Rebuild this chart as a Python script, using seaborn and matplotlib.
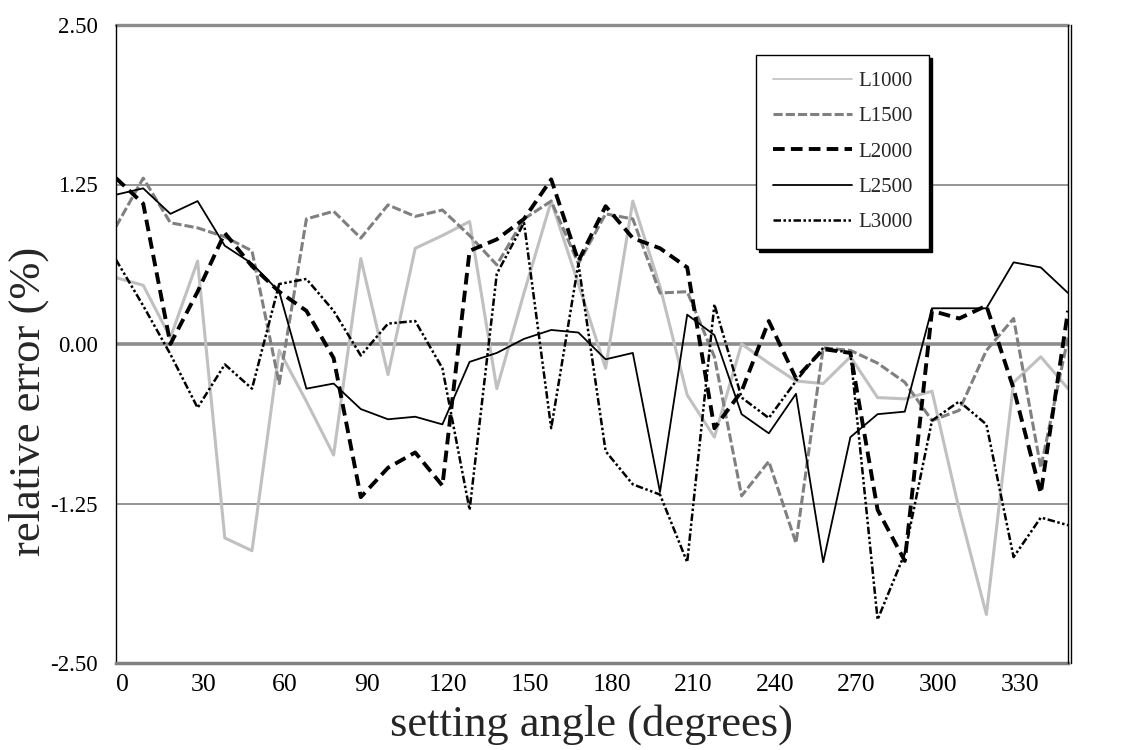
import matplotlib
matplotlib.use("Agg")
import pandas as pd
import matplotlib.pyplot as plt
import matplotlib.transforms as mtransforms
import seaborn as sns

# ===== data (10 degree steps) =====
angles = list(range(0, 360, 10))

L1000 = [0.52, 0.46, 0.05, 0.65, -1.52, -1.62, -0.05, -0.45, -0.87, 0.67, -0.24, 0.75,
         0.85, 0.96, -0.35, 0.40, 1.12, 0.47, -0.19, 1.12, 0.45, -0.40, -0.73, 0.00,
         -0.15, -0.29, -0.31, -0.10, -0.42, -0.43, -0.37, -1.30, -2.12, -0.30, -0.10, -0.35]
L1500 = [0.92, 1.30, 0.95, 0.91, 0.84, 0.73, -0.31, 0.98, 1.04, 0.83, 1.09, 1.00,
         1.05, 0.85, 0.62, 0.98, 1.12, 0.63, 1.02, 0.98, 0.40, 0.41, -0.10, -1.19,
         -0.92, -1.56, -0.03, -0.05, -0.15, -0.30, -0.60, -0.52, -0.05, 0.20, -0.97, 0.05]
L2000 = [1.30, 1.10, 0.00, 0.41, 0.87, 0.61, 0.41, 0.26, -0.11, -1.20, -0.97, -0.85,
         -1.11, 0.73, 0.82, 0.98, 1.29, 0.65, 1.08, 0.83, 0.75, 0.60, -0.66, -0.37,
         0.18, -0.27, -0.04, -0.07, -1.30, -1.70, 0.26, 0.20, 0.30, -0.35, -1.17, 0.26]
L2500 = [1.17, 1.22, 1.02, 1.12, 0.77, 0.63, 0.41, -0.35, -0.31, -0.51, -0.59, -0.57,
         -0.63, -0.14, -0.07, 0.04, 0.11, 0.09, -0.12, -0.07, -1.16, 0.23, 0.07, -0.55,
         -0.70, -0.39, -1.71, -0.73, -0.55, -0.53, 0.28, 0.28, 0.28, 0.64, 0.60, 0.40]
L3000 = [0.66, 0.30, -0.08, -0.50, -0.16, -0.35, 0.47, 0.51, 0.26, -0.09, 0.16, 0.18,
         -0.19, -1.30, 0.55, 0.95, -0.66, 0.63, -0.84, -1.10, -1.18, -1.71, 0.31, -0.42,
         -0.58, -0.29, -0.03, -0.07, -2.16, -1.64, -0.60, -0.45, -0.63, -1.67, -1.36, -1.42]

series_names = ["L1000", "L1500", "L2000", "L2500", "L3000"]
series_values = [L1000, L1500, L2000, L2500, L3000]

x_ticks = list(range(0, 331, 30))
y_ticks = [-2.50, -1.25, 0.00, 1.25, 2.50]

# ===== line styles =====
styles = {
    "L1000": dict(color="#c0c0c0", linewidth=2.2, linestyle="-"),
    "L1500": dict(color="#808080", linewidth=2.2, linestyle=(0, (3, 1))),
    "L2000": dict(color="black", linewidth=2.8, linestyle=(0, (3, 1.6))),
    "L2500": dict(color="black", linewidth=1.3, linestyle="-"),
    "L3000": dict(color="black", linewidth=1.8, linestyle=(0, (3, 1, 1, 1, 1, 1))),
}

sns.set_style("white")
plt.rcParams['font.family'] = ['Liberation Serif', 'DejaVu Serif']

fig = plt.figure(figsize=(11.29, 7.5), dpi=100)
ax = fig.add_axes([116 / 1129, 87 / 750, 952 / 1129, 638 / 750])

# grid lines (Excel style)
grid_col = "#8c8c8c"
ax.axhline(2.50, color=grid_col, lw=2.4, zorder=0, clip_on=False)
ax.axhline(1.25, color=grid_col, lw=1.3, zorder=0)
ax.axhline(0.00, color=grid_col, lw=2.6, zorder=0)
ax.axhline(-1.25, color=grid_col, lw=1.3, zorder=0)

for name, vals in zip(series_names, series_values):
    df = pd.DataFrame({"angle": angles, "err": vals})
    sns.lineplot(data=df, x="angle", y="err", ax=ax, label=name, **styles[name])

ax.set_xlim(0, 350)
ax.set_ylim(-2.5, 2.5)
ax.set_xticks(x_ticks)
ax.set_yticks(y_ticks)
ax.set_yticklabels([f"{v:.2f}" for v in y_ticks])

# spines
ax.spines["top"].set_visible(False)
ax.spines["left"].set_color("black")
ax.spines["left"].set_linewidth(1.0)
ax.spines["bottom"].set_color("#808080")
ax.spines["bottom"].set_linewidth(2.5)
ax.spines["right"].set_color("black")
ax.spines["right"].set_linewidth(1.0)
ax.spines["right"].set_position(("outward", 2.2))
ax.axvline(350, color="black", lw=1.0, clip_on=False, zorder=5)

ax.tick_params(axis="x", direction="in", length=4, width=2, color="#808080",
               labelsize=18.5, pad=8, labelcolor="black")
ax.tick_params(axis="y", length=0, labelsize=16.5, pad=13, labelcolor="black")

# excel puts the category labels a little right of the tick
shift = mtransforms.ScaledTranslation(6 / 100, 0, fig.dpi_scale_trans)
for lab in ax.get_xticklabels():
    lab.set_transform(lab.get_transform() + shift)

ax.set_xlabel("setting angle (degrees)", fontsize=32, va="center")
ax.xaxis.set_label_coords(0.5, -0.097)
ax.set_ylabel("relative error (%)", fontsize=32, va="center")
ax.yaxis.set_label_coords(-0.092, 0.41)

leg = ax.legend(loc="upper left", bbox_to_anchor=(756 / 1129, 1 - 55 / 750),
                bbox_transform=fig.transFigure, frameon=True, fancybox=False,
                shadow={"color": "black", "alpha": 1}, edgecolor="black",
                framealpha=1, fontsize=15, handlelength=3.8, handletextpad=0.3,
                labelspacing=0.75, borderpad=0.8, borderaxespad=0)
leg.get_frame().set_linewidth(1.0)
leg.get_lines()[0].set_linewidth(1.2)

fig.savefig("out.png", dpi=100)
